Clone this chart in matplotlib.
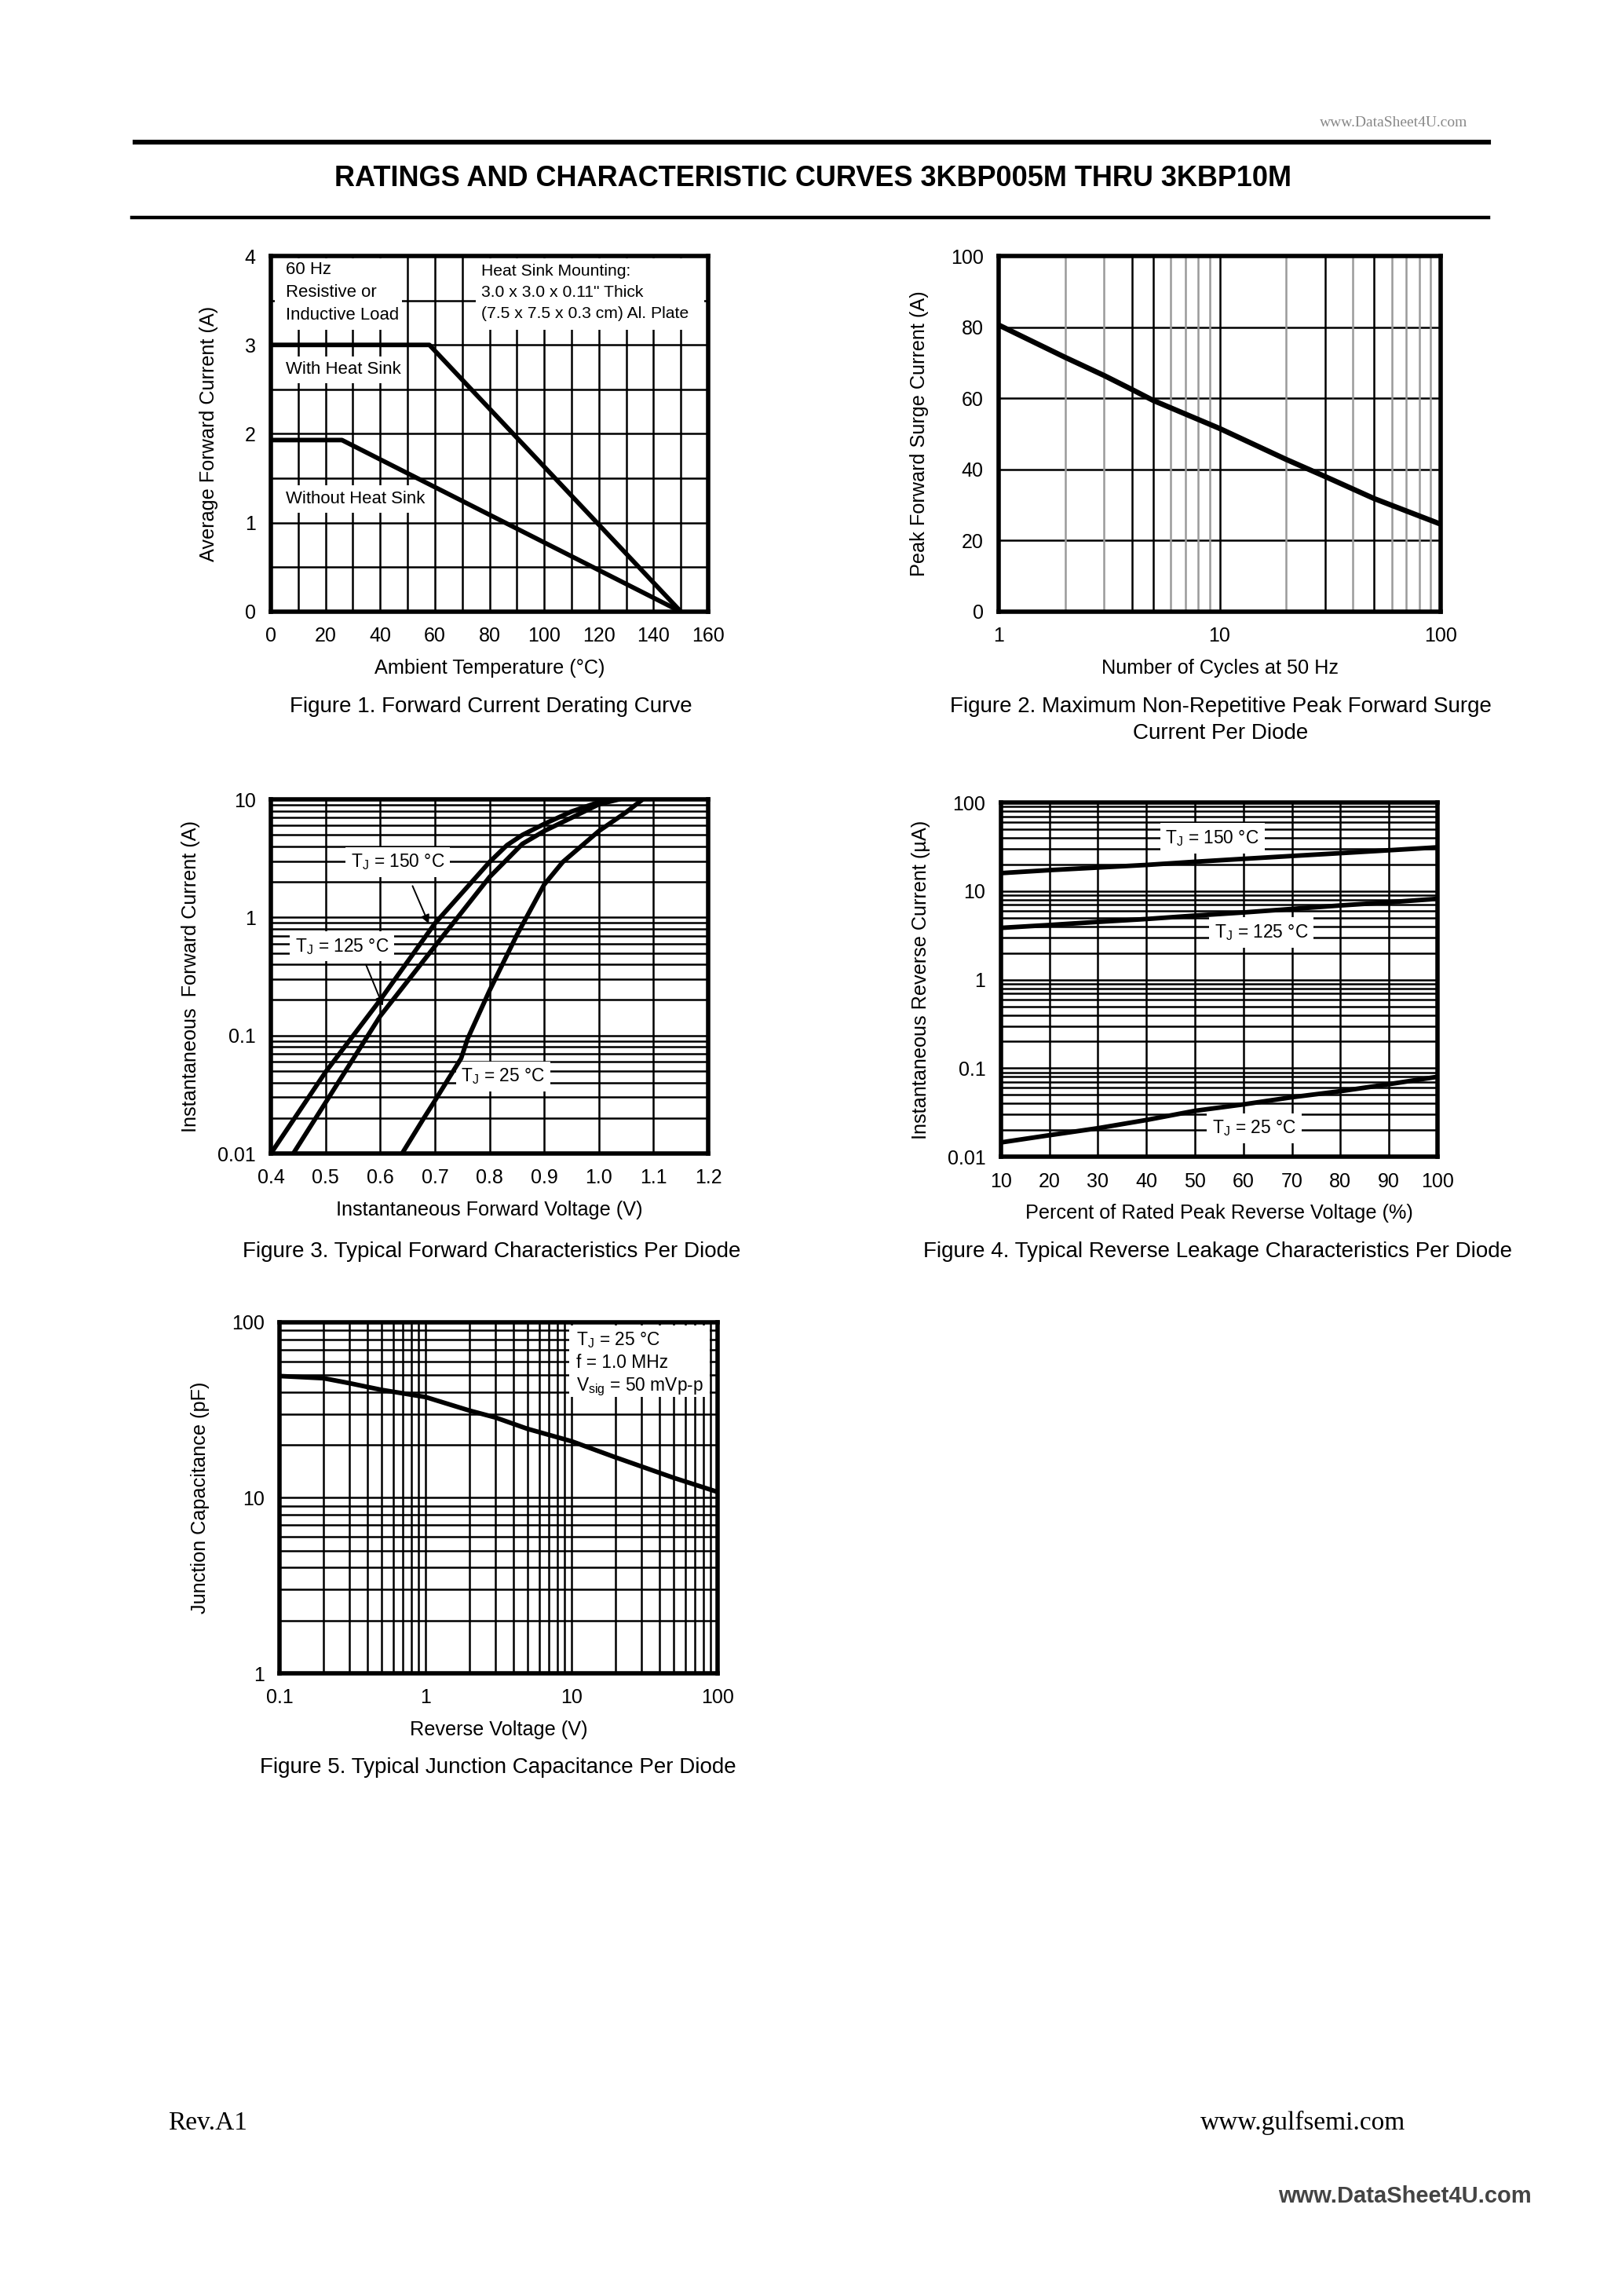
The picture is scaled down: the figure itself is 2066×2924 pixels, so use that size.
import matplotlib
matplotlib.use('Agg')
import matplotlib.pyplot as plt
from matplotlib import font_manager as fm
from matplotlib.patches import Rectangle
from matplotlib.ticker import FixedLocator, FixedFormatter, NullFormatter

names = {f.name for f in fm.fontManager.ttflist}
NARROW = 'Liberation Sans Narrow' if 'Liberation Sans Narrow' in names else 'Liberation Sans'
SANS = 'Liberation Sans'
SERIF = 'Liberation Serif'
plt.rcParams['font.family'] = [NARROW, 'DejaVu Sans']
plt.rcParams['mathtext.default'] = 'regular'

# ---------------- data ----------------
# Figure 1: derating
f1_temp_hs = [0, 58, 150]
f1_cur_hs = [3.0, 3.0, 0.0]
f1_temp_nohs = [0, 26, 150]
f1_cur_nohs = [1.93, 1.93, 0.0]
f1_xticks = [0, 20, 40, 60, 80, 100, 120, 140, 160]
f1_yticks = [0, 1, 2, 3, 4]

# Figure 2: surge current
f2_cycles = [1, 2, 3, 4, 5, 10, 20, 30, 50, 100]
f2_current = [80.6, 71.5, 66.4, 62.5, 59.4, 51.5, 42.8, 38.0, 31.8, 24.6]
f2_yticks = [0, 20, 40, 60, 80, 100]
f2_xticklabels = ['1', '10', '100']

# Figure 3: forward characteristics
f3_v150 = [0.40, 0.50, 0.60, 0.70, 0.80, 0.832, 0.86, 0.90, 0.95, 1.00, 1.02]
f3_i150 = [0.01, 0.049, 0.20, 0.89, 2.95, 4.1, 5.0, 6.2, 7.9, 9.5, 10.0]
f3_v125 = [0.441, 0.50, 0.60, 0.70, 0.80, 0.86, 0.90, 0.95, 1.00, 1.036]
f3_i125 = [0.01, 0.027, 0.146, 0.57, 2.2, 4.2, 5.4, 7.0, 9.1, 10.0]
f3_v25 = [0.64, 0.68, 0.70, 0.748, 0.76, 0.80, 0.85, 0.90, 0.934, 1.00, 1.05, 1.08]
f3_i25 = [0.01, 0.02, 0.028, 0.064, 0.094, 0.24, 0.71, 1.9, 2.95, 5.4, 7.8, 10.0]
f3_xticks = [0.4, 0.5, 0.6, 0.7, 0.8, 0.9, 1.0, 1.1, 1.2]
f3_xticklabels = ['0.4', '0.5', '0.6', '0.7', '0.8', '0.9', '1.0', '1.1', '1.2']
f3_yticklabels = ['0.01', '0.1', '1', '10']

# Figure 4: reverse leakage
f4_pct = [10, 20, 30, 40, 50, 60, 70, 80, 90, 100]
f4_i150 = [16.0, 17.3, 18.5, 19.8, 21.5, 23.2, 25.0, 26.9, 29.0, 31.3]
f4_i125 = [3.85, 4.15, 4.5, 4.85, 5.3, 5.75, 6.3, 6.9, 7.5, 8.2]
f4_i25 = [0.0145, 0.0175, 0.021, 0.026, 0.033, 0.039, 0.047, 0.055, 0.066, 0.080]
f4_xticks = [10, 20, 30, 40, 50, 60, 70, 80, 90, 100]
f4_yticklabels = ['0.01', '0.1', '1', '10', '100']

# Figure 5: junction capacitance
f5_v = [0.1, 0.2, 0.3, 0.5, 1, 2, 3, 5, 10, 20, 30, 50, 100]
f5_c = [49.4, 48.0, 45.0, 41.2, 37.5, 31.4, 28.7, 24.7, 21.0, 17.0, 15.1, 13.0, 10.8]
f5_xticklabels = ['0.1', '1', '10', '100']
f5_yticklabels = ['1', '10', '100']

# ---------------- styling ----------------
FRAME_LW = 2.0
GRID_LW = 0.9
CURVE_LW = 2.1
TICK_FS = 9
LABEL_FS = 9.1
CAP_FS = 10
ANN_FS = 8.2

fig = plt.figure(figsize=(2066 / 200, 2924 / 200), dpi=200)


def style(ax):
    for s in ax.spines.values():
        s.set_linewidth(FRAME_LW)
        s.set_zorder(5)
    ax.tick_params(which='both', length=0, labelsize=TICK_FS, pad=7)
    ax.set_axisbelow(True)


def decade_minor(lo_exp, hi_exp):
    return [m * 10 ** e for e in range(lo_exp, hi_exp) for m in range(2, 10)]


def decade_major(lo_exp, hi_exp):
    return [10 ** e for e in range(lo_exp, hi_exp + 1)]


def white_box(ax, x0, y0, x1, y1):
    ax.add_patch(Rectangle((x0, y0), x1 - x0, y1 - y0, facecolor='white',
                           edgecolor='none', zorder=2))


wbox = dict(facecolor='white', edgecolor='none', pad=2.5)

# ---------- Figure 1 ----------
ax1 = fig.add_axes([0.1670, 0.7336, 0.2696, 0.1549])
style(ax1)
ax1.set_xlim(0, 160)
ax1.set_ylim(0, 4)
ax1.xaxis.set_major_locator(FixedLocator(f1_xticks))
ax1.yaxis.set_major_locator(FixedLocator(f1_yticks))
ax1.xaxis.set_minor_locator(FixedLocator(list(range(10, 160, 20))))
ax1.yaxis.set_minor_locator(FixedLocator([0.5, 1.5, 2.5, 3.5]))
ax1.grid(True, which='both', color='black', linewidth=GRID_LW)
white_box(ax1, 1.5, 3.17, 48, 3.97)
white_box(ax1, 75, 3.17, 158.5, 3.97)
ax1.plot(f1_temp_hs, f1_cur_hs, color='black', lw=CURVE_LW, zorder=4, solid_capstyle='butt')
ax1.plot(f1_temp_nohs, f1_cur_nohs, color='black', lw=CURVE_LW, zorder=4, solid_capstyle='butt')
ax1.text(5.4, 3.59, '60 Hz\nResistive or\nInductive Load', fontsize=ANN_FS - 0.2, va='center', ha='left',
         linespacing=1.5, zorder=3)
ax1.text(77, 3.59, 'Heat Sink Mounting:\n3.0 x 3.0 x 0.11" Thick\n(7.5 x 7.5 x 0.3 cm) Al. Plate',
         fontsize=ANN_FS - 0.6, va='center', ha='left', linespacing=1.55, zorder=3)
ax1.text(5.4, 2.72, 'With Heat Sink', fontsize=ANN_FS - 0.2, va='center', ha='left', bbox=wbox, zorder=3)
ax1.text(5.4, 1.27, 'Without Heat Sink', fontsize=ANN_FS - 0.2, va='center', ha='left', bbox=wbox, zorder=3)
ax1.set_xlabel('Ambient Temperature (°C)', fontsize=LABEL_FS, labelpad=6)
ax1.set_ylabel('Average Forward Current (A)', fontsize=LABEL_FS, labelpad=12)

# ---------- Figure 2 ----------
ax2 = fig.add_axes([0.6157, 0.7336, 0.2725, 0.1549])
style(ax2)
ax2.set_xscale('log')
ax2.set_xlim(1, 100)
ax2.set_ylim(0, 100)
ax2.xaxis.set_major_locator(FixedLocator([1, 10, 100]))
ax2.xaxis.set_major_formatter(FixedFormatter(f2_xticklabels))
ax2.xaxis.set_minor_locator(FixedLocator([]))
ax2.xaxis.set_minor_formatter(NullFormatter())
ax2.yaxis.set_major_locator(FixedLocator(f2_yticks))
ax2.grid(True, which='major', axis='y', color='black', linewidth=GRID_LW)
dark_minor = [4, 5, 10, 30, 50]
for v in decade_minor(0, 2) + [10]:
    ax2.axvline(v, color='black' if v in dark_minor else '#9a9a9a', lw=GRID_LW, zorder=1)
ax2.plot(f2_cycles, f2_current, color='black', lw=CURVE_LW + 0.3, zorder=4)
ax2.set_xlabel('Number of Cycles at 50 Hz', fontsize=LABEL_FS, labelpad=6)
ax2.set_ylabel('Peak Forward Surge Current (A)', fontsize=LABEL_FS, labelpad=10)

# ---------- Figure 3 ----------
ax3 = fig.add_axes([0.1670, 0.4976, 0.2696, 0.1542])
style(ax3)
ax3.set_yscale('log')
ax3.set_xlim(0.4, 1.2)
ax3.set_ylim(0.01, 10)
ax3.xaxis.set_major_locator(FixedLocator(f3_xticks))
ax3.xaxis.set_major_formatter(FixedFormatter(f3_xticklabels))
ax3.yaxis.set_major_locator(FixedLocator(decade_major(-2, 1)))
ax3.yaxis.set_major_formatter(FixedFormatter(f3_yticklabels))
ax3.yaxis.set_minor_locator(FixedLocator(decade_minor(-2, 1)))
ax3.yaxis.set_minor_formatter(NullFormatter())
ax3.grid(True, which='both', color='black', linewidth=GRID_LW)
ax3.plot(f3_v150, f3_i150, color='black', lw=CURVE_LW, zorder=4)
ax3.plot(f3_v125, f3_i125, color='black', lw=CURVE_LW, zorder=4)
ax3.plot(f3_v25, f3_i25, color='black', lw=CURVE_LW, zorder=4)
ax3.text(0.632, 2.95, r'T$_J$ = 150 °C', fontsize=ANN_FS, ha='center', va='center', bbox=wbox, zorder=3)
ax3.text(0.53, 0.57, r'T$_J$ = 125 °C', fontsize=ANN_FS, ha='center', va='center', bbox=wbox, zorder=3)
ax3.text(0.825, 0.045, r'T$_J$ = 25 °C', fontsize=ANN_FS, ha='center', va='center', bbox=wbox, zorder=3)
ax3.annotate('', xy=(0.692, 0.82), xytext=(0.656, 2.0),
             arrowprops=dict(arrowstyle='-|>', color='black', lw=0.7, mutation_scale=8), zorder=6)
ax3.annotate('', xy=(0.608, 0.165), xytext=(0.571, 0.43),
             arrowprops=dict(arrowstyle='-|>', color='black', lw=0.7, mutation_scale=8), zorder=6)
ax3.set_xlabel('Instantaneous Forward Voltage (V)', fontsize=LABEL_FS, labelpad=6)
ax3.set_ylabel('Instantaneous  Forward Current (A)', fontsize=LABEL_FS, labelpad=8)

# ---------- Figure 4 ----------
ax4 = fig.add_axes([0.6171, 0.4962, 0.2691, 0.1542])
style(ax4)
ax4.set_yscale('log')
ax4.set_xlim(10, 100)
ax4.set_ylim(0.01, 100)
ax4.xaxis.set_major_locator(FixedLocator(f4_xticks))
ax4.yaxis.set_major_locator(FixedLocator(decade_major(-2, 2)))
ax4.yaxis.set_major_formatter(FixedFormatter(f4_yticklabels))
ax4.yaxis.set_minor_locator(FixedLocator(decade_minor(-2, 2)))
ax4.yaxis.set_minor_formatter(NullFormatter())
ax4.grid(True, which='both', color='black', linewidth=GRID_LW)
ax4.plot(f4_pct, f4_i150, color='black', lw=CURVE_LW, zorder=4)
ax4.plot(f4_pct, f4_i125, color='black', lw=CURVE_LW, zorder=4)
ax4.plot(f4_pct, f4_i25, color='black', lw=CURVE_LW, zorder=4)
ax4.text(53.6, 39.5, r'T$_J$ = 150 °C', fontsize=ANN_FS, ha='center', va='center', bbox=wbox, zorder=3)
ax4.text(63.7, 3.4, r'T$_J$ = 125 °C', fontsize=ANN_FS, ha='center', va='center', bbox=wbox, zorder=3)
ax4.text(62.2, 0.021, r'T$_J$ = 25 °C', fontsize=ANN_FS, ha='center', va='center', bbox=wbox, zorder=3)
ax4.set_xlabel('Percent of Rated Peak Reverse Voltage (%)', fontsize=LABEL_FS, labelpad=6)
ax4.set_ylabel('Instantaneous Reverse Current (µA)', fontsize=LABEL_FS, labelpad=8)

# ---------- Figure 5 ----------
ax5 = fig.add_axes([0.1723, 0.2712, 0.2701, 0.1529])
style(ax5)
ax5.set_xscale('log')
ax5.set_yscale('log')
ax5.set_xlim(0.1, 100)
ax5.set_ylim(1, 100)
ax5.xaxis.set_major_locator(FixedLocator(decade_major(-1, 2)))
ax5.xaxis.set_major_formatter(FixedFormatter(f5_xticklabels))
ax5.xaxis.set_minor_locator(FixedLocator(decade_minor(-1, 2)))
ax5.xaxis.set_minor_formatter(NullFormatter())
ax5.yaxis.set_major_locator(FixedLocator(decade_major(0, 2)))
ax5.yaxis.set_major_formatter(FixedFormatter(f5_yticklabels))
ax5.yaxis.set_minor_locator(FixedLocator(decade_minor(0, 2)))
ax5.yaxis.set_minor_formatter(NullFormatter())
ax5.grid(True, which='both', color='black', linewidth=GRID_LW)
white_box(ax5, 9.6, 37.5, 88, 96)
ax5.plot(f5_v, f5_c, color='black', lw=CURVE_LW, zorder=4)
ax5.text(10.8, 90, 'T$_J$ = 25 °C\nf = 1.0 MHz\nV$_{sig}$ = 50 mVp-p', fontsize=ANN_FS,
         ha='left', va='top', linespacing=1.3, zorder=3)
ax5.set_xlabel('Reverse Voltage (V)', fontsize=LABEL_FS, labelpad=6)
ax5.set_ylabel('Junction Capacitance (pF)', fontsize=LABEL_FS, labelpad=10)

# ---------- captions ----------
cap = dict(fontsize=CAP_FS, family=[SANS, 'DejaVu Sans'], ha='center', va='center')
fig.text(0.3025, 0.6922, 'Figure 1. Forward Current Derating Curve', **cap)
fig.text(0.7527, 0.6922, 'Figure 2. Maximum Non-Repetitive Peak Forward Surge', **cap)
fig.text(0.7527, 0.6807, 'Current Per Diode', **cap)
fig.text(0.3032, 0.4548, 'Figure 3. Typical Forward Characteristics Per Diode', **cap)
fig.text(0.7509, 0.4548, 'Figure 4. Typical Reverse Leakage Characteristics Per Diode', **cap)
fig.text(0.3068, 0.2302, 'Figure 5. Typical Junction Capacitance Per Diode', **cap)

# ---------- header / footer ----------
fig.text(0.905, 0.9464, 'www.DataSheet4U.com', fontsize=7, color='#888888',
         family=[SERIF], ha='right', va='center')
fig.add_artist(plt.Line2D([0.0833, 0.9177], [0.9381, 0.9381], color='black', lw=2.2))
fig.text(0.501, 0.9223, 'RATINGS AND CHARACTERISTIC CURVES 3KBP005M THRU 3KBP10M',
         fontsize=13, weight='bold', family=[SANS], ha='center', va='center')
fig.add_artist(plt.Line2D([0.0813, 0.9177], [0.9053, 0.9053], color='black', lw=1.6))
fig.text(0.1037, 0.0753, 'Rev.A1', fontsize=12, family=[SERIF], ha='left', va='center')
fig.text(0.8664, 0.0753, 'www.gulfsemi.com', fontsize=12, family=[SERIF], ha='right', va='center')
fig.text(0.944, 0.0434, 'www.DataSheet4U.com', fontsize=10.5, weight='bold', color='#444444',
         family=[NARROW], ha='right', va='center')

fig.savefig('out.png', dpi=200, facecolor='white')
